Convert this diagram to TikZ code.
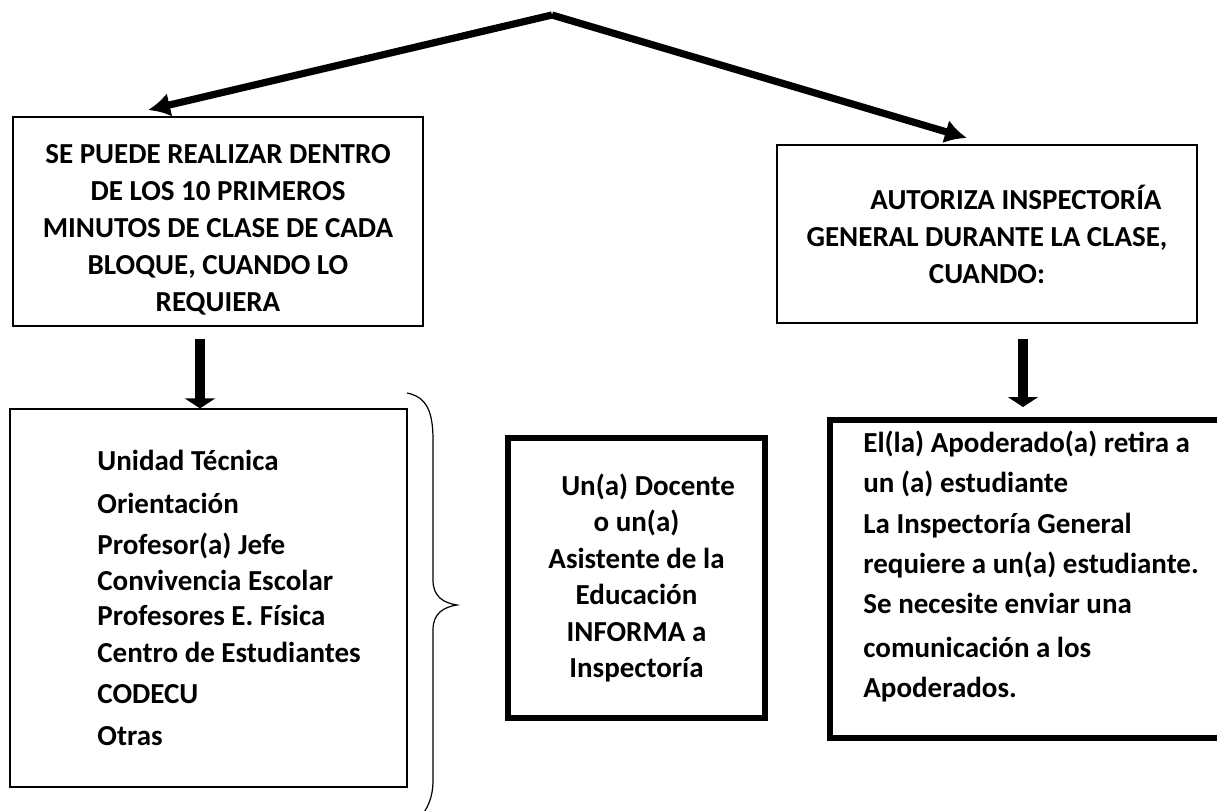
\documentclass[tikz,border=0pt]{standalone}
\usepackage{fontspec}
\setmainfont{Carlito}
\usepackage{tikz}
\usetikzlibrary{arrows.meta,positioning}

\begin{document}
\begin{tikzpicture}[x=0.5pt,y=-0.5pt]%
\tikzstyle{letra}=[font=\bfseries\fontsize{14.5}{18.5}\selectfont]
\tikzstyle{flecha}=[line width=3.6pt,-{Latex[length=11pt,width=12pt]}]
\tikzstyle{bajada}=[line width=5pt,-{Triangle[length=5pt,width=15pt]}]
\tikzstyle{renglon}=[letra,anchor=base west,inner sep=0pt]
\useasboundingbox (0,0) rectangle (1217,810);
\begin{scope}[letra,inner sep=0pt,align=center]%
\tikzstyle{every node}=[draw,line width=0.6pt] %%
\node[minimum width=205pt,minimum height=104.5pt,label={[draw=none,yshift=-4pt]center:{SE PUEDE REALIZAR DENTRO\\DE LOS 10 PRIMEROS\\MINUTOS DE CLASE DE CADA\\BLOQUE, CUANDO LO\\REQUIERA}}] (puede) at (218,221.5) {}; %%
\node[minimum width=210pt,minimum height=89pt] (autoriza) at (987,234) {\hspace*{2em}AUTORIZA INSPECTORÍA\\GENERAL DURANTE LA CLASE,\\CUANDO:}; %%
\node[minimum width=198.5pt,minimum height=189pt] (lista) at (208.5,598) {}; %%
\end{scope}
\begin{scope}[inner sep=0pt,align=center]%
\tikzstyle{every node}=[draw,line width=3pt] %%
\node[minimum width=128.5pt,minimum height=140pt,font=\bfseries\fontsize{14.5}{18.2}\selectfont] (informa) at (636.5,578) {\hspace*{0.8em}Un(a) Docente\\o un(a)\\Asistente de la\\Educación\\INFORMA a\\Inspectoría}; %%
\node[minimum width=205pt,minimum height=159pt] (apoderado) at (1035,579) {}; %%
\end{scope}
% lineas de la lista
\node[renglon] (l1) at (97,470) {Unidad Técnica}; %%
\node[renglon] (l2) at (97,513) {Orientación}; %%
\node[renglon] (l3) at (97,554) {Profesor(a) Jefe}; %%
\node[renglon] (l4) at (97,590) {Convivencia Escolar}; %%
\node[renglon] (l5) at (97,625) {Profesores E. Física}; %%
\node[renglon] (l6) at (97,662) {Centro de Estudiantes}; %%
\node[renglon] (l7) at (97,703) {CODECU}; %%
\node[renglon] (l8) at (97,745) {Otras}; %%
% casos de la derecha
\node[renglon] (r1) at (863,452) {El(la) Apoderado(a) retira a}; %%
\node[renglon] (r2) at (863,492) {un (a) estudiante}; %%
\node[renglon] (r3) at (863,533) {La Inspectoría General}; %%
\node[renglon] (r4) at (863,573) {requiere a un(a) estudiante.}; %%
\node[renglon] (r5) at (863,613) {Se necesite enviar una}; %%
\node[renglon] (r6) at (863,657) {comunicación a los}; %%
\node[renglon] (r7) at (863,697) {Apoderados.}; %%
% flechas
\coordinate (cima) at (552,15);
\coordinate (pizq) at (148,110);
\coordinate (pder) at (967,138);
\coordinate (b1) at (200,339);
\coordinate (b2) at (1023,339);
\draw[flecha] (cima)--(pizq);
\draw[flecha] (cima)--(pder);
\draw[bajada] (b1)--(b1 |- lista.north);
\draw[bajada] (b2)--++(0,68);
% llave
\draw[line width=0.6pt] (407,393) .. controls (427,397) and (433,412) .. (433,440) -- (433,580) .. controls (433,597) and (444,603) .. (457,605) .. controls (444,607) and (433,613) .. (433,630) -- (433,780) .. controls (433,800) and (426,810) .. (420,818);
\end{tikzpicture}
\end{document}
